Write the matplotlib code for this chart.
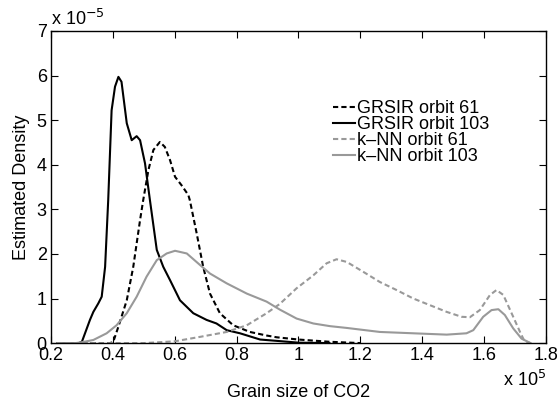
import numpy as np
import matplotlib.pyplot as plt

plt.rcParams['font.family'] = ['Liberation Sans', 'DejaVu Sans']

# grain size in units of 1e5, density in units of 1e-5
grsir103_x = [0.22, 0.29, 0.30, 0.326, 0.337, 0.353, 0.364, 0.375, 0.385, 0.396, 0.407, 0.418,
              0.428, 0.445, 0.461, 0.477, 0.488, 0.504, 0.520, 0.542, 0.563, 0.585, 0.617,
              0.66, 0.703, 0.735, 0.768, 0.811, 0.876, 0.93, 1.0, 1.1]
grsir103_y = [0, 0, 0.03, 0.52, 0.70, 0.89, 1.04, 1.71, 3.2, 5.22, 5.75, 5.97,
              5.86, 4.93, 4.55, 4.64, 4.55, 4.03, 3.2, 2.09, 1.71, 1.41, 0.96,
              0.67, 0.52, 0.44, 0.29, 0.22, 0.08, 0.05, 0.01, 0]

grsir61_x = [0.22, 0.39, 0.401, 0.418, 0.445, 0.466, 0.488, 0.498, 0.515, 0.531, 0.552, 0.568,
             0.585, 0.601, 0.622, 0.644, 0.649, 0.671, 0.692, 0.714, 0.746, 0.789, 0.843,
             0.897, 0.93, 1.0, 1.1, 1.2]
grsir61_y = [0, 0, 0.02, 0.37, 0.96, 1.71, 2.76, 3.2, 3.88, 4.33, 4.51, 4.40,
             4.10, 3.73, 3.54, 3.32, 3.2, 2.46, 1.71, 1.11, 0.67, 0.40, 0.25,
             0.17, 0.13, 0.08, 0.03, 0]

knn103_x = [0.22, 0.28, 0.30, 0.337, 0.38, 0.412, 0.445, 0.477, 0.509, 0.542, 0.574, 0.601,
            0.639, 0.682, 0.714, 0.768, 0.833, 0.897, 0.94, 0.994, 1.048, 1.102, 1.156,
            1.263, 1.371, 1.479, 1.543, 1.565, 1.597, 1.624, 1.646, 1.667, 1.694, 1.721, 1.75]
knn103_y = [0, 0, 0.02, 0.07, 0.22, 0.40, 0.67, 1.04, 1.49, 1.86, 2.01, 2.07,
            2.01, 1.75, 1.56, 1.34, 1.11, 0.93, 0.75, 0.55, 0.44, 0.38, 0.34,
            0.25, 0.22, 0.19, 0.22, 0.29, 0.59, 0.74, 0.76, 0.63, 0.33, 0.10, 0]

knn61_x = [0.22, 0.5, 0.6, 0.682, 0.768, 0.833, 0.897, 0.94, 0.994, 1.048, 1.091, 1.123,
           1.156, 1.209, 1.263, 1.317, 1.371, 1.425, 1.479, 1.527, 1.554, 1.586, 1.619,
           1.640, 1.662, 1.694, 1.716, 1.73, 1.75]
knn61_y = [0, 0, 0.04, 0.14, 0.25, 0.40, 0.67, 0.88, 1.23, 1.52, 1.79, 1.88,
           1.82, 1.60, 1.37, 1.19, 1.00, 0.85, 0.70, 0.59, 0.58, 0.74, 1.08,
           1.19, 1.08, 0.59, 0.25, 0.05, 0]

labels = ['GRSIR orbit 61', 'GRSIR orbit 103', 'k\u2013NN orbit 61', 'k\u2013NN orbit 103']

fig = plt.figure(figsize=(5.6, 4.07), dpi=100)
ax = fig.add_axes([0.091, 0.157, 0.884, 0.767])

gray = '#999999'
ax.plot(grsir61_x, grsir61_y, color='black', lw=1.5, dashes=(2.5, 1.5), label=labels[0])
ax.plot(grsir103_x, grsir103_y, color='black', lw=1.5, label=labels[1])
ax.plot(knn61_x, knn61_y, color=gray, lw=1.5, dashes=(2.5, 1.5), label=labels[2])
ax.plot(knn103_x, knn103_y, color=gray, lw=1.5, label=labels[3])

ax.set_xlim(0.2, 1.8)
ax.set_ylim(0, 7)
ax.set_xticks(np.arange(0.2, 1.81, 0.2))
ax.set_xticklabels(['0.2', '0.4', '0.6', '0.8', '1', '1.2', '1.4', '1.6', '1.8'])
ax.set_yticks(range(8))
ax.tick_params(direction='in', top=True, right=True, length=5, labelsize=13, pad=3)
for s in ax.spines.values():
    s.set_linewidth(1.0)

ax.set_xlabel('Grain size of CO2', fontsize=13, labelpad=14)
ax.set_ylabel('Estimated Density', fontsize=13, labelpad=5)

ax.text(0.0, 1.005, 'x 10$^{-5}$', transform=ax.transAxes, fontsize=13,
        ha='left', va='bottom')
ax.text(1.0, -0.085, 'x 10$^{5}$', transform=ax.transAxes, fontsize=13,
        ha='right', va='top')

ax.legend(loc='upper left', bbox_to_anchor=(0.555, 0.802), frameon=False, fontsize=13,
          handlelength=1.2, handletextpad=0.15, labelspacing=-0.05, borderaxespad=0)

fig.savefig('out.png', dpi=100)
